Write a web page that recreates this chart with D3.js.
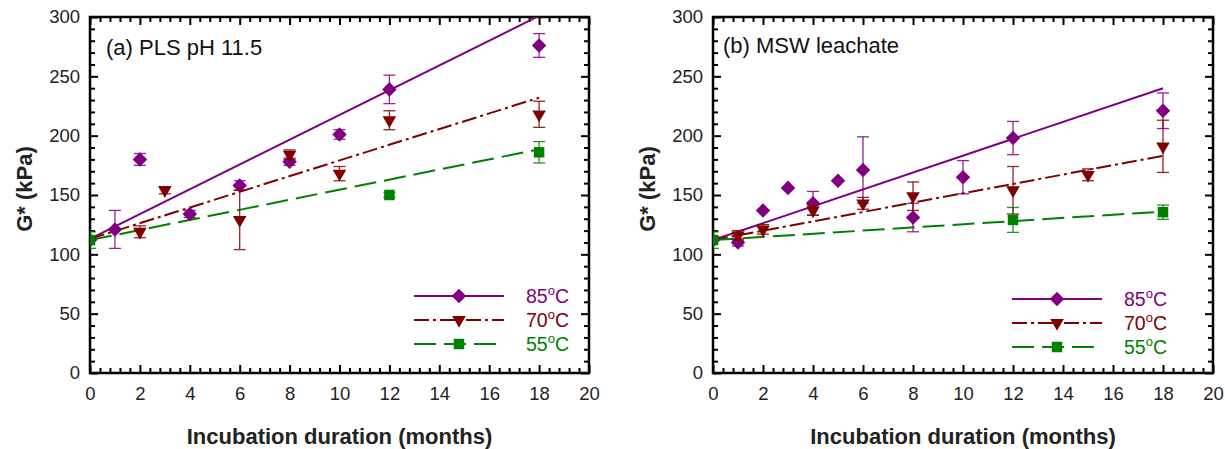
<!DOCTYPE html>
<html lang="en">
<head>
<meta charset="UTF-8">
<title>G* vs incubation duration</title>
<script src="https://d3js.org/d3.v7.min.js"></script>
<style>
  body { margin: 0; background: #fff; }
  text { font-family: Arial, "Liberation Sans", sans-serif; }
</style>
</head>
<body>
<script>
  // tick values
  const xTicks = [0, 2, 4, 6, 8, 10, 12, 14, 16, 18, 20]
  const yTicks = [0, 50, 100, 150, 200, 250, 300]
  const tempLabels = ['85', '70', '55']

  // (a) PLS pH 11.5
  const plsX85 = [0, 1, 2, 4, 6, 8, 10, 12, 18]
  const plsG85 = [112, 121, 180, 134, 158, 178, 201, 239, 276]
  const plsE85 = [0, 16, 5, 3, 4, 3, 4, 12, 10]
  const plsX70 = [0, 2, 3, 6, 8, 10, 12, 18]
  const plsG70 = [112, 119, 154, 129, 184, 168, 213, 218]
  const plsE70 = [0, 5, 3, 25, 4, 6, 8, 11]
  const plsX55 = [0, 12, 18]
  const plsG55 = [112, 150, 186]
  const plsE55 = [7, 2, 9]
  const plsFit85 = [113, 301]
  const plsFit70 = [113, 232]
  const plsFit55 = [112, 188.5]

  // (b) MSW leachate
  const mswX85 = [0, 1, 2, 3, 4, 5, 6, 8, 10, 12, 18]
  const mswG85 = [112, 110, 137, 156, 143, 162, 171, 131, 165, 198, 221]
  const mswE85 = [0, 3, 0, 0, 10, 0, 28, 12, 14, 14, 15]
  const mswX70 = [0, 1, 2, 4, 6, 8, 12, 15, 18]
  const mswG70 = [112, 116, 121, 137, 143, 149, 154, 167, 191]
  const mswE70 = [0, 4, 4, 4, 5, 12, 20, 5, 22]
  const mswX55 = [0, 12, 18]
  const mswG55 = [112, 129, 135.5]
  const mswE55 = [7, 10.5, 6]
  const mswFit85 = [112, 240]
  const mswFit70 = [112, 183]
  const mswFit55 = [112, 136]

  const fitX = [0, 18]

  const colors = ['#800080', '#800000', '#008000']
  const dashes = [null, '15,4,3,4', '22,8']
  const symbols = [
    d3.symbol().type(d3.symbolDiamond2).size(135),
    d3.symbol().type(d3.symbolTriangle).size(80),
    d3.symbol().type(d3.symbolSquare).size(110)
  ]
  const symRotate = [0, 180, 0]

  const width = 1225
  const height = 449
  const plotTop = 17
  const plotBottom = 373

  const panels = [
    {
      left: 90, right: 589, label: '(a) PLS pH 11.5', labelX: 106, labelY: 55,
      legend: { x1: 414, x2: 504, y: [296, 320, 344], tx: 526 },
      yTitleX: 24,
      series: [
        { x: plsX85, g: plsG85, e: plsE85, fit: plsFit85 },
        { x: plsX70, g: plsG70, e: plsE70, fit: plsFit70 },
        { x: plsX55, g: plsG55, e: plsE55, fit: plsFit55 }
      ]
    },
    {
      left: 713, right: 1213, label: '(b) MSW leachate', labelX: 723, labelY: 53,
      legend: { x1: 1012, x2: 1102, y: [299, 323, 347], tx: 1124 },
      yTitleX: 647,
      series: [
        { x: mswX85, g: mswG85, e: mswE85, fit: mswFit85 },
        { x: mswX70, g: mswG70, e: mswE70, fit: mswFit70 },
        { x: mswX55, g: mswG55, e: mswE55, fit: mswFit55 }
      ]
    }
  ]

  const svg = d3.select('body')
    .append('svg')
    .attr('width', width)
    .attr('height', height)

  panels.forEach((p, pi) => {
    const x = d3.scaleLinear().domain([0, 20]).range([p.left, p.right])
    const y = d3.scaleLinear().domain([0, 300]).range([plotBottom, plotTop])
    const minorX = d3.range(0, 20.01, 0.4).filter(v => Math.abs(v / 2 - Math.round(v / 2)) > 1e-6)
    const minorY = d3.range(0, 301, 10).filter(v => v % 50 !== 0)

    const g = svg.append('g')

    svg.append('clipPath')
      .attr('id', 'clip' + pi)
      .append('rect')
      .attr('x', p.left).attr('y', plotTop)
      .attr('width', p.right - p.left).attr('height', plotBottom - plotTop)

    // axes: inward ticks on all four sides
    const axes = [
      [d3.axisBottom(x).tickValues(xTicks), `translate(0,${plotBottom})`, 14],
      [d3.axisTop(x).tickValues(xTicks).tickFormat(''), `translate(0,${plotTop})`, 0],
      [d3.axisLeft(y).tickValues(yTicks), `translate(${p.left},0)`, 10],
      [d3.axisRight(y).tickValues(yTicks).tickFormat(''), `translate(${p.right},0)`, 0]
    ]
    axes.forEach(([ax, tr, pad]) => {
      const a = g.append('g')
        .attr('transform', tr)
        .call(ax.tickSize(-8).tickSizeOuter(0).tickPadding(pad))
      a.select('.domain').remove()
      a.selectAll('line').attr('stroke', '#000').attr('stroke-width', 2)
      a.selectAll('text').attr('font-size', 18.5).attr('fill', '#222')
    })
    const minors = [
      [d3.axisBottom(x).tickValues(minorX), `translate(0,${plotBottom})`],
      [d3.axisTop(x).tickValues(minorX), `translate(0,${plotTop})`],
      [d3.axisLeft(y).tickValues(minorY), `translate(${p.left},0)`],
      [d3.axisRight(y).tickValues(minorY), `translate(${p.right},0)`]
    ]
    minors.forEach(([ax, tr]) => {
      const a = g.append('g')
        .attr('transform', tr)
        .call(ax.tickSize(-5).tickSizeOuter(0).tickFormat(''))
      a.select('.domain').remove()
      a.selectAll('line').attr('stroke', '#000').attr('stroke-width', 2)
    })

    // frame
    g.append('rect')
      .attr('x', p.left).attr('y', plotTop)
      .attr('width', p.right - p.left).attr('height', plotBottom - plotTop)
      .attr('fill', 'none').attr('stroke', '#000').attr('stroke-width', 2.5)

    // titles
    g.append('text')
      .attr('x', (p.left + p.right) / 2).attr('y', 444)
      .attr('text-anchor', 'middle')
      .attr('font-size', 22).attr('font-weight', 'bold').attr('fill', '#222')
      .text('Incubation duration (months)')
    g.append('text')
      .attr('transform', `translate(${p.yTitleX},${(plotTop + plotBottom) / 2 - 6}) rotate(-90)`)
      .attr('text-anchor', 'middle').attr('dy', '0.35em')
      .attr('font-size', 22).attr('font-weight', 'bold').attr('fill', '#222')
      .text('G* (kPa)')
    g.append('text')
      .attr('x', p.labelX).attr('y', p.labelY)
      .attr('font-size', 22).attr('fill', '#111')
      .text(p.label)

    const line = d3.line().x(d => x(d[0])).y(d => y(d[1]))
    const plot = g.append('g').attr('clip-path', `url(#clip${pi})`)

    // fit lines
    p.series.forEach((s, i) => {
      plot.append('path')
        .attr('d', line(fitX.map((v, k) => [v, s.fit[k]])))
        .attr('fill', 'none')
        .attr('stroke', colors[i])
        .attr('stroke-width', 2)
        .attr('stroke-dasharray', dashes[i])
    })

    // error bars and markers
    p.series.forEach((s, i) => {
      const pts = s.x.map((v, k) => ({ x: v, g: s.g[k], e: s.e[k] }))
      const eb = plot.append('g')
        .attr('stroke', colors[i]).attr('stroke-width', 1.3).attr('opacity', 0.85)
      pts.filter(d => d.e > 0).forEach(d => {
        const cx = x(d.x)
        eb.append('line').attr('x1', cx).attr('x2', cx).attr('y1', y(d.g - d.e)).attr('y2', y(d.g + d.e))
        eb.append('line').attr('x1', cx - 6).attr('x2', cx + 6).attr('y1', y(d.g - d.e)).attr('y2', y(d.g - d.e))
        eb.append('line').attr('x1', cx - 6).attr('x2', cx + 6).attr('y1', y(d.g + d.e)).attr('y2', y(d.g + d.e))
      })
      plot.append('g').selectAll('path')
        .data(pts)
        .enter()
        .append('path')
        .attr('d', symbols[i])
        .attr('transform', d => `translate(${x(d.x)},${y(d.g)}) rotate(${symRotate[i]})`)
        .attr('fill', colors[i])
    })

    // legend
    const L = p.legend
    tempLabels.forEach((t, i) => {
      const ly = L.y[i]
      g.append('line')
        .attr('x1', L.x1).attr('x2', L.x2).attr('y1', ly).attr('y2', ly)
        .attr('stroke', colors[i]).attr('stroke-width', 2)
        .attr('stroke-dasharray', dashes[i])
      g.append('path')
        .attr('d', symbols[i])
        .attr('transform', `translate(${(L.x1 + L.x2) / 2},${ly}) rotate(${symRotate[i]})`)
        .attr('fill', colors[i])
      const tx = g.append('text')
        .attr('x', L.tx).attr('y', ly + 7)
        .attr('font-size', 19.5).attr('fill', colors[i])
      tx.append('tspan').text(t)
      tx.append('tspan').attr('font-size', 13).attr('dy', -8).text('o')
      tx.append('tspan').attr('dy', 8).text('C')
    })
  })
</script>
</body>
</html>
